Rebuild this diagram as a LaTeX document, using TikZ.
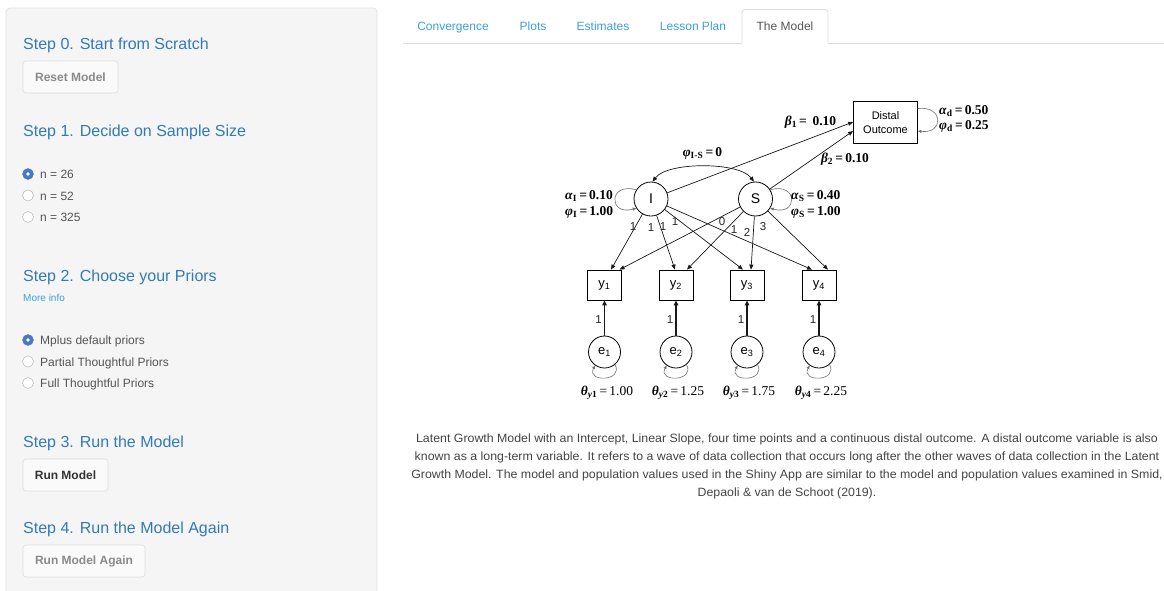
\documentclass[tikz,border=0pt]{standalone}
\usepackage[no-math]{fontspec}
\usepackage{amsmath}
\setmainfont{Liberation Sans}
\newfontfamily\capfont[FakeStretch=1.03]{Liberation Sans}
\newfontfamily\lserif{Liberation Serif}
\newcommand{\prm}[3]{{\lserif\bfseries\textit{#1}\textsubscript{#2}\,=\,#3}}
\usetikzlibrary{arrows.meta}
\definecolor{panelbg}{HTML}{F5F5F5}
\definecolor{panelborder}{HTML}{E3E3E3}
\definecolor{headblue}{HTML}{337AB7}
\definecolor{linkblue}{HTML}{3E9FDF}
\definecolor{radioblue}{HTML}{4A78C2}
\definecolor{txtgray}{HTML}{555555}
\definecolor{btngray}{HTML}{8A8A8A}
\definecolor{btndark}{HTML}{333333}
\definecolor{btnborder}{HTML}{DEDEDE}
\definecolor{tabborder}{HTML}{DDDDDD}
\definecolor{capgray}{HTML}{444444}
\begin{document}
\begin{tikzpicture}[x=1pt,y=-1pt]
\tikzset{
 head/.style={anchor=base west, inner sep=0pt, text=headblue, font=\fontsize{16}{16}\selectfont},
 radiotxt/.style={anchor=base west, inner sep=0pt, text=txtgray, font=\fontsize{12}{12}\selectfont},
 radiooff/.style={circle, draw=black!25, fill=white, line width=0.6pt, minimum size=11pt, inner sep=0pt},
 radioon/.style={circle, draw=radioblue, fill=radioblue, minimum size=11pt, inner sep=0pt},
 btn/.style={draw=btnborder, fill=white!98!black, rounded corners=3pt, line width=0.6pt},
 btntxt/.style={inner sep=0pt, font=\bfseries\fontsize{12}{12}\selectfont},
 tabtxt/.style={anchor=base, inner sep=0pt, text=linkblue, font=\fontsize{12}{12}\selectfont},
 lat/.style={circle, draw, line width=0.8pt, minimum size=34pt, inner sep=0pt, font=\fontsize{14}{14}\selectfont},
 obs/.style={rectangle, draw, line width=0.8pt, minimum width=34pt, minimum height=30pt, inner sep=0pt, font=\fontsize{13}{13}\selectfont},
 err/.style={circle, draw, line width=0.8pt, minimum size=32pt, inner sep=0pt, font=\fontsize{13}{13}\selectfont},
 arr/.style={-{Triangle[length=5pt,width=4pt]}, line width=0.7pt, draw=black!90},
 arrthick/.style={-{Triangle[length=5pt,width=4.5pt]}, line width=1.4pt, draw=black!90},
 loopar/.style={-{Triangle[length=3.5pt,width=3pt]}, line width=0.6pt, draw=black!55},
 lbl/.style={inner sep=0pt, font=\fontsize{13.5}{15.5}\selectfont},
 ld/.style={inner sep=0pt, text=black!85, font=\fontsize{11.5}{11.5}\selectfont},
 captxt/.style={anchor=base, inner sep=0pt, text=capgray, font=\capfont\fontsize{12}{12}\selectfont},
}
\useasboundingbox (0,0) rectangle (1164,590);
\fill[white] (0,0) rectangle (1164,590);

% ---------- left panel ----------
\draw[panelborder, fill=panelbg, rounded corners=4pt, line width=0.8pt] (6,605) rectangle (377,8);

\node[head] (h0) at (23,49) {Step 0. Start from Scratch};
\draw[btn] (23,61) rectangle (118,93);
\node[btntxt, text=btngray] (b0) at (70.5,77) {Reset Model};

\node[head] (h1) at (23,136) {Step 1. Decide on Sample Size};
\node[radioon] (r1) at (28,174) {};
\fill[white] (r1) circle (1.8pt);
\node[radiotxt] (t1) at (40,178.5) {n = 26};
\node[radiooff] (r2) at (28,195.5) {};
\node[radiotxt] (t2) at (40,200) {n = 52};
\node[radiooff] (r3) at (28,217) {};
\node[radiotxt] (t3) at (40,221.5) {n = 325};

\node[head] (h2) at (23,281) {Step 2. Choose your Priors};
\node[anchor=base west, inner sep=0pt, text=linkblue, font=\fontsize{10}{10}\selectfont] (more) at (23,301.5) {More info};
\node[radioon] (p1) at (28,340) {};
\fill[white] (p1) circle (1.8pt);
\node[radiotxt] (pt1) at (40,344.5) {Mplus default priors};
\node[radiooff] (p2) at (28,361.5) {};
\node[radiotxt] (pt2) at (40,366) {Partial Thoughtful Priors};
\node[radiooff] (p3) at (28,383) {};
\node[radiotxt] (pt3) at (40,387.5) {Full Thoughtful Priors};

\node[head] (h3) at (23,447) {Step 3. Run the Model};
\draw[btn] (23,459) rectangle (108,491);
\node[btntxt, text=btndark] (b3) at (65.5,475) {Run Model};

\node[head] (h4) at (23,533) {Step 4. Run the Model Again};
\draw[btn] (23,545) rectangle (145,577);
\node[btntxt, text=btngray] (b4) at (84,561) {Run Model Again};

% ---------- tabs ----------
\draw[tabborder, line width=0.8pt] (403,43.5) -- (742,43.5);
\draw[tabborder, line width=0.8pt] (828,43.5) -- (1164,43.5);
\draw[tabborder, line width=0.8pt, rounded corners=3pt] (742,43.5) -- (742,9.5) -- (828,9.5) -- (828,43.5);
\node[tabtxt] (tb1) at (453,30.5) {Convergence};
\node[tabtxt] (tb2) at (533,30.5) {Plots};
\node[tabtxt] (tb3) at (603,30.5) {Estimates};
\node[tabtxt] (tb4) at (693,30.5) {Lesson Plan};
\node[tabtxt, text=txtgray] (tb5) at (785,30.5) {The Model};

% ---------- SEM diagram ----------
\node[obs, minimum width=64pt, minimum height=42pt, align=center, font=\fontsize{11}{14}\selectfont] (D) at (885.5,122.5) {Distal\\Outcome};
\node[lat] (I) at (651,199) {I};
\node[lat] (S) at (755.5,199) {S};
\foreach \i/\x in {1/604.5,2/676,3/747,4/819}{
  \node[obs] (y\i) at (\x,285) {y\textsubscript{\i}};
  \node[err] (e\i) at (\x,352) {e\textsubscript{\i}};
  \draw[arrthick] (e\i) -- (y\i);
  \node[ld] (l\i) at (\x-6,320) {1};
  \draw[loopar] (e\i.-50) .. controls +(9,17) and +(-9,17) .. (e\i.-125);
}

% regressions on distal outcome
\draw[arr] (I) -- ([yshift=0.5pt]D.west);
\draw[arr] (S) -- ([yshift=-8.5pt]D.west);
% covariance I-S
\draw[{Triangle[length=5pt,width=4pt]}-{Triangle[length=5pt,width=4pt]}, line width=0.7pt, draw=black!90]
  (I.85) .. controls +(15,-20) and +(-15,-20) .. (S.95);
% self loops
\draw[loopar] (I.148) .. controls +(-28,-8) and +(-28,8) .. (I.212);
\draw[loopar] (S.32) .. controls +(28,-8) and +(28,8) .. (S.-32);
\draw[loopar] ([yshift=14pt]D.east) .. controls +(26,-3) and +(26,3) .. ([yshift=-8.5pt]D.east);

% loadings
\draw[arr] (I) -- ([xshift=6.5pt]y1.north);
\draw[arr] (I) -- ([xshift=-1pt]y2.north);
\draw[arr] (I) -- ([xshift=-4pt]y3.north);
\draw[arr] (I) -- ([xshift=-7pt]y4.north);
\draw[arr] (S) -- ([xshift=15pt]y1.north);
\draw[arr] (S) -- ([xshift=11pt]y2.north);
\draw[arr] (S) -- ([xshift=4pt]y3.north);
\draw[arr] (S) -- ([xshift=9pt]y4.north);

\node[ld] (li1) at (633,227) {1};
\node[ld] (li2) at (651,228) {1};
\node[ld] (li3) at (663,227) {1};
\node[ld] (li4) at (675,222) {1};
\node[ld] (ls1) at (722,222) {0};
\node[ld] (ls2) at (734,230) {1};
\node[ld] (ls3) at (747,232) {2};
\node[ld] (ls4) at (763,227) {3};

% parameter labels
\node[lbl] (beta1) at (810.5,122) {\prm{β}{1}{\ 0.10}};
\node[lbl] (beta2) at (845,159) {\prm{β}{2}{0.10}};
\node[lbl] (phiIS) at (702.5,153) {\prm{φ}{I-S}{0}};
\node[lbl, anchor=west, align=left] (parD) at (939,119) {\prm{α}{d}{0.50}\\\prm{φ}{d}{0.25}};
\node[lbl, anchor=west, align=left] (parI) at (565,204.5) {\prm{α}{I}{0.10}\\\prm{φ}{I}{1.00}};
\node[lbl, anchor=west, align=left] (parS) at (791,204.5) {\prm{α}{S}{0.40}\\\prm{φ}{S}{1.00}};
\node[lbl] (th1) at (607,393) {{\lserif\bfseries\textit{θ}\textsubscript{\textit{y}1}}\,{\lserif=\,1.00}};
\node[lbl] (th2) at (678,393) {{\lserif\bfseries\textit{θ}\textsubscript{\textit{y}2}}\,{\lserif=\,1.25}};
\node[lbl] (th3) at (749,393) {{\lserif\bfseries\textit{θ}\textsubscript{\textit{y}3}}\,{\lserif=\,1.75}};
\node[lbl] (th4) at (821,393) {{\lserif\bfseries\textit{θ}\textsubscript{\textit{y}4}}\,{\lserif=\,2.25}};

% ---------- caption ----------
\node[captxt] (c1) at (787,442) {Latent Growth Model with an Intercept, Linear Slope, four time points and a continuous distal outcome. A distal outcome variable is also};
\node[captxt] (c2) at (787,460) {known as a long-term variable. It refers to a wave of data collection that occurs long after the other waves of data collection in the Latent};
\node[captxt] (c3) at (787,478) {Growth Model. The model and population values used in the Shiny App are similar to the model and population values examined in Smid,};
\node[captxt] (c4) at (787,496) {Depaoli \& van de Schoot (2019).};
\end{tikzpicture}
\end{document}
